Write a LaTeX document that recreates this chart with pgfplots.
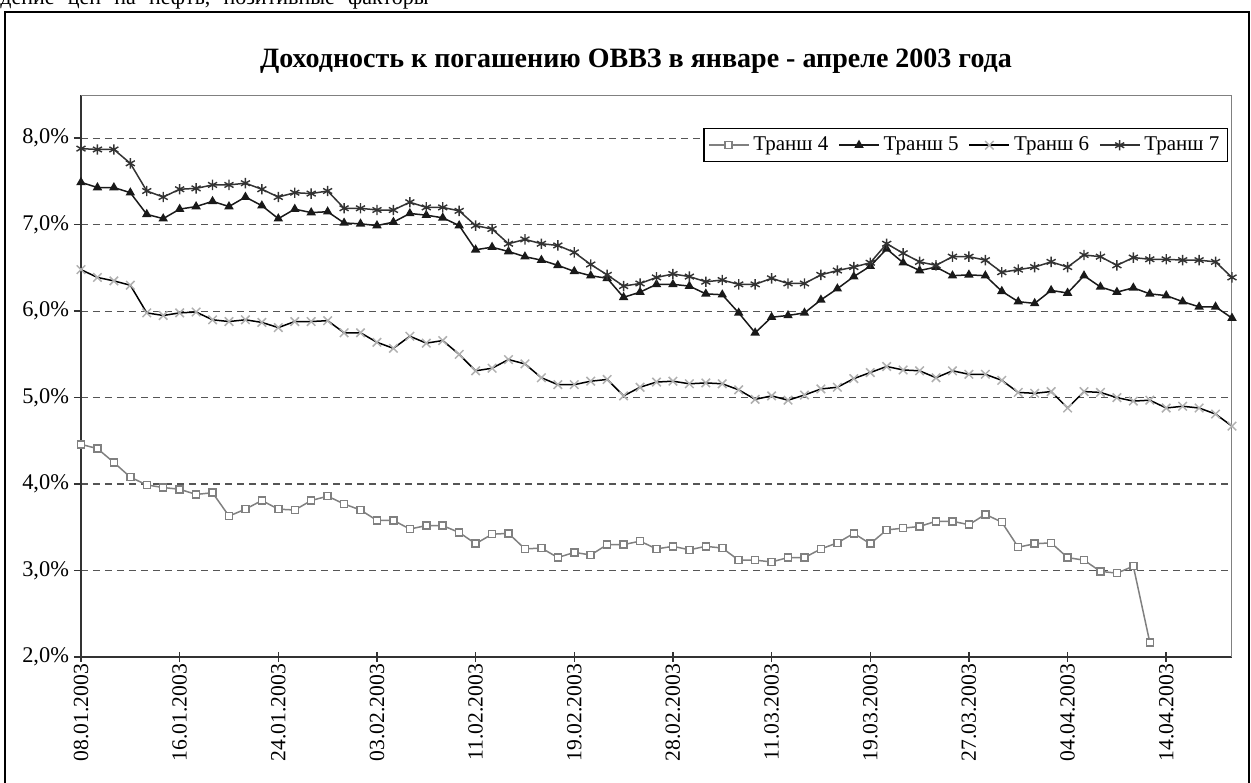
\documentclass[border=0pt]{standalone}
\usepackage{fontspec}
\setmainfont{Liberation Serif}
\usepackage{pgfplots}
\pgfplotsset{compat=1.18}
\usepackage{pgfplotstable}

\definecolor{tfour}{HTML}{808080}
\definecolor{tsix}{HTML}{B0B0B0}
\definecolor{tseven}{HTML}{333333}
\definecolor{gridc}{HTML}{555555}

% i: trading day index (ticks every 6 days)
\pgfplotstableread{
i  t4   t5   t6   t7
0  4.46 7.49 6.48 7.88
1  4.41 7.43 6.39 7.87
2  4.25 7.43 6.35 7.87
3  4.08 7.37 6.30 7.71
4  3.99 7.12 5.98 7.39
5  3.96 7.07 5.95 7.32
6  3.94 7.18 5.98 7.41
7  3.88 7.21 5.99 7.42
8  3.90 7.27 5.90 7.46
9  3.63 7.21 5.88 7.46
10 3.71 7.32 5.90 7.48
11 3.81 7.22 5.87 7.41
12 3.71 7.07 5.81 7.32
13 3.70 7.18 5.88 7.37
14 3.81 7.14 5.88 7.36
15 3.86 7.15 5.89 7.39
16 3.77 7.02 5.75 7.19
17 3.70 7.01 5.75 7.19
18 3.58 6.99 5.64 7.17
19 3.58 7.03 5.57 7.17
20 3.48 7.13 5.71 7.26
21 3.52 7.11 5.63 7.20
22 3.52 7.08 5.66 7.20
23 3.44 6.99 5.50 7.16
24 3.31 6.71 5.31 6.99
25 3.42 6.74 5.34 6.95
26 3.43 6.69 5.44 6.78
27 3.25 6.63 5.39 6.83
28 3.26 6.59 5.23 6.78
29 3.15 6.53 5.15 6.76
30 3.21 6.46 5.15 6.68
31 3.18 6.41 5.19 6.54
32 3.30 6.38 5.21 6.42
33 3.30 6.16 5.02 6.29
34 3.34 6.22 5.12 6.32
35 3.25 6.31 5.18 6.39
36 3.28 6.31 5.19 6.43
37 3.24 6.29 5.16 6.40
38 3.28 6.20 5.17 6.34
39 3.26 6.19 5.16 6.36
40 3.12 5.98 5.09 6.31
41 3.12 5.75 4.98 6.31
42 3.10 5.93 5.02 6.38
43 3.15 5.95 4.97 6.32
44 3.15 5.98 5.03 6.32
45 3.25 6.13 5.10 6.42
46 3.32 6.26 5.12 6.47
47 3.43 6.40 5.22 6.51
48 3.31 6.52 5.29 6.56
49 3.47 6.72 5.36 6.78
50 3.49 6.56 5.32 6.67
51 3.51 6.47 5.31 6.57
52 3.57 6.51 5.23 6.53
53 3.57 6.41 5.31 6.63
54 3.53 6.42 5.27 6.63
55 3.65 6.41 5.27 6.59
56 3.56 6.23 5.20 6.45
57 3.27 6.11 5.06 6.48
58 3.31 6.09 5.05 6.51
59 3.32 6.24 5.07 6.57
60 3.15 6.21 4.88 6.51
61 3.12 6.41 5.07 6.65
62 2.99 6.28 5.06 6.63
63 2.97 6.22 5.00 6.53
64 3.05 6.27 4.96 6.62
65 2.17 6.20 4.97 6.60
66 nan  6.18 4.88 6.60
67 nan  6.11 4.90 6.59
68 nan  6.05 4.88 6.59
69 nan  6.05 4.81 6.57
70 nan  5.92 4.67 6.39
}\ovvz

\begin{document}
\begin{tikzpicture}
\useasboundingbox (0pt,0pt) rectangle (625.5pt,391pt);
% cut line of the page text above the chart
\node[anchor=base west, inner sep=0pt, font=\fontsize{11}{13}\selectfont]
  at (0pt,388.5pt) {дение\hspace{0.6em}цен\hspace{0.6em}на\hspace{0.6em}нефть,\hspace{0.6em}позитивные\hspace{0.6em}факторы};
\draw[line width=0.75pt] (2.5pt,-20pt) rectangle (624.5pt,385pt);
\node[anchor=base, font=\bfseries\fontsize{14}{16}\selectfont]
  at (318pt,357pt) {Доходность к погашению ОВВЗ в январе - апреле 2003 года};
\begin{axis}[
    at={(40.5pt,62.5pt)}, anchor=south west,
    scale only axis, width=575.5pt, height=281pt,
    xmin=0, xmax=70, ymin=2, ymax=8.5,
    axis x line*=bottom, axis y line*=left,
    axis line style={draw=black!80, line width=0.9pt, -},
    xtick={0,6,...,66},
    xticklabels={08.01.2003,16.01.2003,24.01.2003,03.02.2003,11.02.2003,19.02.2003,28.02.2003,11.03.2003,19.03.2003,27.03.2003,04.04.2003,14.04.2003},
    x tick label style={rotate=90, anchor=east, font=\fontsize{10.8}{12}\selectfont},
    ytick={2,3,...,8},
    yticklabels={{2,0\%},{3,0\%},{4,0\%},{5,0\%},{6,0\%},{7,0\%},{8,0\%}},
    y tick label style={font=\fontsize{11.2}{13}\selectfont, xshift=-2.5pt},
    xtick style={draw=black!80, line width=0.75pt},
    ytick style={draw=black!80, line width=0.75pt},
    x tick style={/pgfplots/major tick length=5pt, /pgfplots/tick align=center},
    y tick style={/pgfplots/major tick length=3.5pt, /pgfplots/tick align=outside},
    ymajorgrids,
    y grid style={draw=gridc, line width=0.6pt, dash pattern=on 3.5pt off 2.5pt},
    unbounded coords=jump,
    legend columns=4,
    legend style={at={(0.9965,0.941)}, anchor=north east, draw=black, line width=0.6pt,
      font=\fontsize{10.5}{12}\selectfont, inner sep=2pt,
      /tikz/every even column/.append style={column sep=3pt}},
    legend image code/.code={%
      \draw[mark repeat=2,mark phase=2] plot coordinates {(0cm,0cm) (0.35cm,0cm) (0.7cm,0cm)};},
    legend cell align=left,
]
\addplot[color=tfour, line width=0.75pt, mark=square*, mark size=1.75pt,
  mark options={solid, fill=white, draw=tfour, line width=0.75pt}]
  table[x=i, y=t4] {\ovvz};
\addlegendentry{Транш 4}
\addplot[color=black!90, line width=0.75pt, mark=triangle*, mark size=2pt,
  mark options={solid, fill=black!90}]
  table[x=i, y=t5] {\ovvz};
\addlegendentry{Транш 5}
\addplot[color=black, line width=0.75pt, mark=x, mark size=3pt,
  mark options={solid, draw=tsix, line width=0.75pt}]
  table[x=i, y=t6] {\ovvz};
\addlegendentry{Транш 6}
\addplot[color=tseven, line width=0.75pt, mark=asterisk, mark size=2.6pt,
  mark options={solid, draw=tseven, line width=0.7pt}]
  table[x=i, y=t7] {\ovvz};
\addlegendentry{Транш 7}
\draw[draw=black!50, line width=0.75pt] (rel axis cs:0,1) -- (rel axis cs:1,1) -- (rel axis cs:1,0);
\end{axis}
\end{tikzpicture}
\end{document}
